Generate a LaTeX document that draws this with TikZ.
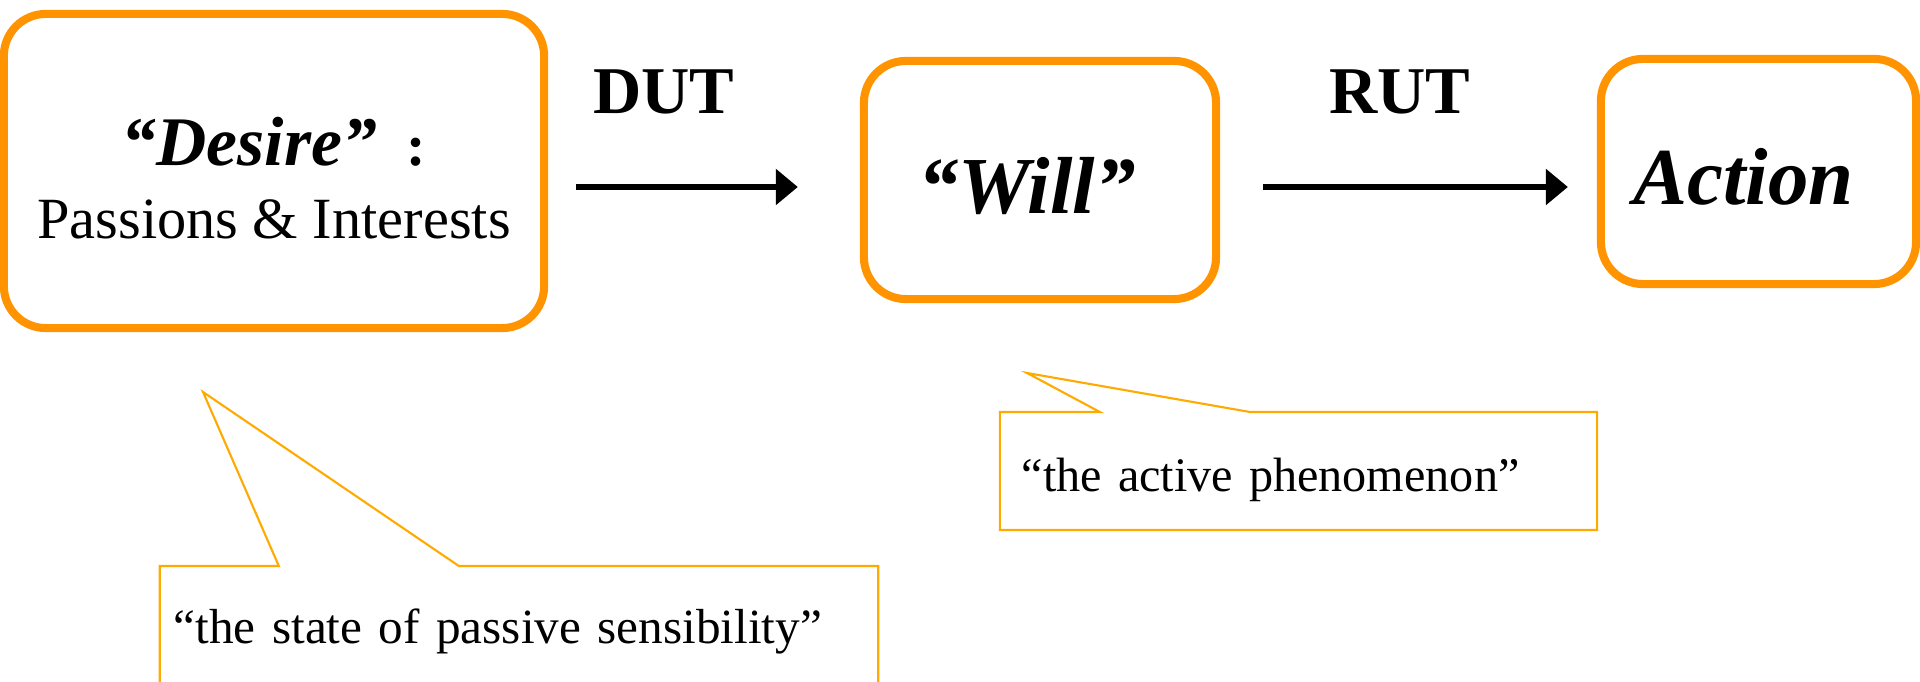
\documentclass[tikz,border=0pt]{standalone}
\usepackage{fontspec}
\setmainfont{Liberation Serif}
\usetikzlibrary{arrows.meta,calc}

\definecolor{boxorange}{RGB}{255,148,0}
\definecolor{noteorange}{RGB}{255,170,0}

\tikzset{
  stage/.style={draw=boxorange, line width=2.3pt, rounded corners=0.42cm, inner sep=0pt, align=center},
  flow/.style={line width=1.7pt, -{Triangle[length=0.22cm,width=0.35cm]}},
  tag/.style={anchor=base, inner sep=0pt, font=\fontsize{19pt}{22pt}\selectfont\bfseries},
  note/.style={inner xsep=0.14cm, inner ysep=0pt, outer sep=0pt, align=left, font=\fontsize{14pt}{17pt}\selectfont},
  noteline/.style={draw=noteorange, line width=0.6pt}
}

\begin{document}
\begin{tikzpicture}[x=0.01cm,y=-0.01cm]
	\useasboundingbox (0,0) rectangle (1920,682);
	
	%%%%% boxes %%%%%
	\node[stage, minimum width=5.40cm, minimum height=3.14cm, text height=1.34cm, text depth=0pt,
	  font=\fontsize{16.6pt}{20.5pt}\selectfont] (desire) at (274,171)
	  {{\fontsize{19.8pt}{20.5pt}\selectfont\bfseries\itshape “Desire”}\hspace{0.3cm}\textbf{:}\\Passions \& Interests};
	\node[stage, minimum width=3.52cm, minimum height=2.38cm, text height=0.66cm, text depth=0pt,
	  font=\fontsize{23pt}{26pt}\selectfont\bfseries\itshape] (will) at (1040,180) {“Will”\hspace{0.26cm}};
	\node[stage, minimum width=3.15cm, minimum height=2.25cm, text height=0.66cm, text depth=0pt,
	  font=\fontsize{23pt}{26pt}\selectfont\bfseries\itshape] (action) at (1758.5,171.5) {Action\hspace{0.3cm}};
	
	%%%%% arrows %%%%%
	\draw[flow] ([shift={(28,16)}]desire.east) -- ([shift={(-62,7)}]will.west);
	\draw[flow] ([shift={(43,7)}]will.east) -- ([shift={(-29,15.5)}]action.west);
	\node[tag] (dut) at (664,114) {DUT};
	\node[tag] (rut) at (1400,114) {RUT};
	
	%%%%% callouts %%%%%
	\node[note, inner xsep=0.22cm, minimum width=5.97cm, minimum height=1.18cm, text width=5.53cm,
	  text height=0.40cm, text depth=0pt, font=\fontsize{13.7pt}{17pt}\selectfont] (active) at (1298.5,471)
	  {“the active phenomenon”};
	\coordinate (activetip) at (1027,373);
	\draw[noteline] (active.north west) -- ++(100,0) -- (activetip) -- ($(active.north west)+(250,0)$)
	  -- (active.north east) -- (active.south east) -- (active.south west) -- cycle;
	
	\node[note, minimum width=7.18cm, minimum height=1.34cm, text width=6.90cm,
	  text height=0.40cm, text depth=0.20cm] (passive) at (519,633) {“the state of passive sensibility”};
	\coordinate (passivetip) at (203,392);
	\draw[noteline] (passive.north west) -- ++(119,0) -- (passivetip) -- ($(passive.north west)+(299,0)$)
	  -- (passive.north east) -- (passive.south east) -- (passive.south west) -- cycle;
	
\end{tikzpicture}
\end{document}
